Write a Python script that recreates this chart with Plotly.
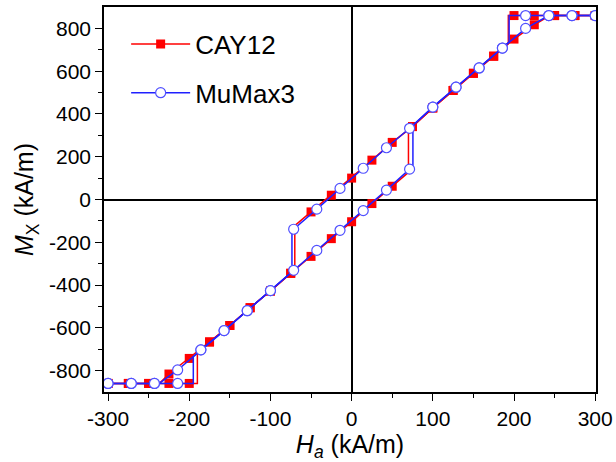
import plotly.graph_objects as go

# ---------------- data (kA/m) ----------------
# CAY12: markers every 25 kA/m
cay_H = [-300, -275, -250, -225, -200, -175, -150, -125, -100, -75, -50, -25, 0,
         25, 50, 75, 100, 125, 150, 175, 200, 225, 250, 275, 300]
cay_desc_M = [-860, -860, -860, -816, -743, -666, -589, -506, -428, -345, -58, 20, 100,
              184, 267, 341, 428, 510, 590, 670, 750, 817, 860, 860, 860]
cay_asc_M = [-860, -860, -860, -860, -860, -666, -589, -506, -428, -345, -266, -183, -104,
             -19, 62, 341, 428, 510, 590, 670, 860, 860, 860, 860, 860]
# switching corners of the CAY12 curves
cay_desc_corner_H = [-237, -70, -70, 244]
cay_desc_corner_M = [-860, -329, -122, 860]
cay_asc_corner_H = [-190, -190, 70, 70, 193, 193]
cay_asc_corner_M = [-860, -712, 127, 325, 733, 860]

# MuMax3: markers every 28.57 kA/m
mm_H = [-300, -271.4, -242.9, -214.3, -185.7, -157.1, -128.6, -100, -71.4, -42.9, -14.3,
        14.3, 42.9, 71.4, 100, 128.6, 157.1, 185.7, 214.3, 242.9, 271.4, 300]
mm_desc_M = [-860, -860, -860, -797, -703, -613, -520, -426, -139, -45, 52,
             146, 242, 333, 432, 525, 615, 708, 800, 860, 860, 860]
mm_asc_M = [-860, -860, -860, -860, -703, -613, -520, -426, -331, -238, -144,
            -52, 44, 142, 432, 525, 615, 708, 860, 860, 860, 860]
mm_desc_corner_H = [-237, -73.5, -73.5]
mm_desc_corner_M = [-860, -338, -145]
mm_asc_corner_H = [-195, -195, 75.5, 75.5, 194, 194]
mm_asc_corner_M = [-860, -734, 154, 346, 736, 860]

x_tickvals = [-300, -200, -100, 0, 100, 200, 300]
x_ticktext = ["-300", "-200", "-100", "0", "100", "200", "300"]
x_minor = [-250, -150, -50, 50, 150, 250]
y_tickvals = [-800, -600, -400, -200, 0, 200, 400, 600, 800]
y_ticktext = ["-800", "-600", "-400", "-200", "0", "200", "400", "600", "800"]
y_minor = [-700, -500, -300, -100, 100, 300, 500, 700]


def branch(h, m, ch, cm):
    pts = sorted(list(zip(h, m)) + list(zip(ch, cm)))
    return [p[0] for p in pts], [p[1] for p in pts]


def loop(h, m_desc, m_asc, dch, dcm, ach, acm):
    x1, y1 = branch(h, m_desc, dch, dcm)
    x2, y2 = branch(h, m_asc, ach, acm)
    return x1 + [None] + x2, y1 + [None] + y2


RED = "#ff0000"
BLUE = "#2020ff"
FONT = "Liberation Sans, Arial, sans-serif"

fig = go.Figure()

cx, cy = loop(cay_H, cay_desc_M, cay_asc_M, cay_desc_corner_H, cay_desc_corner_M,
              cay_asc_corner_H, cay_asc_corner_M)
mx, my = loop(mm_H, mm_desc_M, mm_asc_M, mm_desc_corner_H, mm_desc_corner_M,
              mm_asc_corner_H, mm_asc_corner_M)

red_marker = dict(symbol="square", size=9, color=RED, line=dict(width=0))
blue_marker = dict(symbol="circle", size=10, color="white", line=dict(color="#5050ff", width=1.2))

fig.add_trace(go.Scatter(x=cx, y=cy, mode="lines", line=dict(color=RED, width=1.5),
                         showlegend=False, hoverinfo="skip"))
fig.add_trace(go.Scatter(x=cay_H + cay_H, y=cay_desc_M + cay_asc_M, mode="markers",
                         marker=red_marker, showlegend=False))
fig.add_trace(go.Scatter(x=mx, y=my, mode="lines", line=dict(color=BLUE, width=1.5),
                         showlegend=False, hoverinfo="skip"))
fig.add_trace(go.Scatter(x=mm_H + mm_H, y=mm_desc_M + mm_asc_M, mode="markers",
                         marker=blue_marker, showlegend=False))

# legend entries
fig.add_trace(go.Scatter(x=[None], y=[None], mode="lines+markers", name="CAY12",
                         line=dict(color=RED, width=1.5), marker=red_marker, legendgroup="a"))
fig.add_trace(go.Scatter(x=[None], y=[None], mode="lines+markers", name="MuMax3",
                         line=dict(color=BLUE, width=1.5), marker=blue_marker, legendgroup="b"))

axis_common = dict(
    showgrid=False, zeroline=True, zerolinecolor="black", zerolinewidth=1.5,
    showline=True, linecolor="black", linewidth=1.5, mirror=True,
    ticks="outside", ticklen=7, tickwidth=1.2, tickcolor="black", automargin=False,
    tickfont=dict(family=FONT, size=21, color="black"),
)

fig.update_layout(
    width=616, height=462,
    margin=dict(l=104, r=20, t=7, b=70),
    paper_bgcolor="white", plot_bgcolor="white",
    font=dict(family=FONT, color="black"),
    xaxis=dict(range=[-305, 301], tickmode="array", tickvals=x_tickvals, ticktext=x_ticktext,
               minor=dict(tickmode="array", tickvals=x_minor, ticks="outside", ticklen=4,
                          tickcolor="black", tickwidth=1.2),
               title=dict(text="<i>H</i><sub><i>a</i></sub> (kA/m)",
                          font=dict(family=FONT, size=25, color="black"), standoff=4),
               **axis_common),
    yaxis=dict(range=[-900, 900], tickmode="array", tickvals=y_tickvals, ticktext=y_ticktext,
               minor=dict(tickmode="array", tickvals=y_minor, ticks="outside", ticklen=4,
                          tickcolor="black", tickwidth=1.2),
               title=dict(text="<i>M</i><sub>X</sub> (kA/m)",
                          font=dict(family=FONT, size=25, color="black"), standoff=8),
               **axis_common),
    legend=dict(x=0.045, y=0.965, xanchor="left", yanchor="top", bgcolor="rgba(0,0,0,0)",
                font=dict(family=FONT, size=26, color="black"), tracegroupgap=12,
                itemwidth=59),
)

fig.write_html("out.html", config={"displayModeBar": False},
               post_script="document.body.style.margin='0';")
